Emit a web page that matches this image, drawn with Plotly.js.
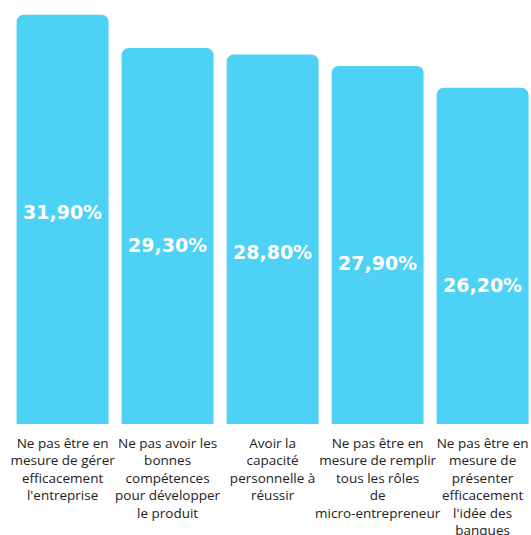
<!DOCTYPE html>
<html>
<head>
<meta charset="utf-8">
<script src="https://cdn.plot.ly/plotly-3.0.1.min.js"></script>
<style>html,body{margin:0;padding:0;background:#fff;}#chart{width:531px;height:535px;}</style>
</head>
<body>
<div id="chart"></div>
<script>
const categories = [
  "Ne pas être en<br>mesure de gérer<br>efficacement<br>l'entreprise",
  "Ne pas avoir les<br>bonnes<br>compétences<br>pour développer<br>le produit",
  "Avoir la<br>capacité<br>personnelle à<br>réussir",
  "Ne pas être en<br>mesure de remplir<br>tous les rôles<br>de<br>micro-entrepreneur",
  "Ne pas être en<br>mesure de<br>présenter<br>efficacement<br>l'idée des<br>banques"
];
const values = [31.9, 29.3, 28.8, 27.9, 26.2];
const valueLabels = values.map(v => v.toFixed(2).replace('.', ',') + '%');

const xIdx = categories.map((c, i) => i);

const trace = {
  type: 'bar',
  x: xIdx,
  y: values,
  marker: { color: '#4DD2F5', cornerradius: 7 },
  width: 0.876,
  hoverinfo: 'none'
};

const annotations = xIdx.map((x, i) => ({
  x: x, y: values[i], xref: 'x', yref: 'y',
  text: valueLabels[i], showarrow: false,
  yshift: -197, yanchor: 'middle',
  font: { family: 'DejaVu Sans', size: 19, color: '#ffffff', weight: 'bold' }
}));

const layout = {
  width: 531, height: 535,
  margin: { l: 10, r: 0, t: 10, b: 111 },
  paper_bgcolor: '#ffffff', plot_bgcolor: '#ffffff',
  showlegend: false,
  xaxis: {
    range: [-0.501, 4.461],
    tickmode: 'array', tickvals: xIdx, ticktext: categories,
    tickangle: 0,
    showgrid: false, zeroline: false, showline: false, ticks: '',
    ticklabelstandoff: 9,
    tickfont: { family: 'Open Sans', size: 13.5, color: '#222222' },
    fixedrange: true
  },
  yaxis: {
    range: [0, 32.27], visible: false, showgrid: false, zeroline: false, fixedrange: true
  },
  annotations: annotations
};

Plotly.newPlot('chart', [trace], layout, { displayModeBar: false, staticPlot: true });
</script>
</body>
</html>
